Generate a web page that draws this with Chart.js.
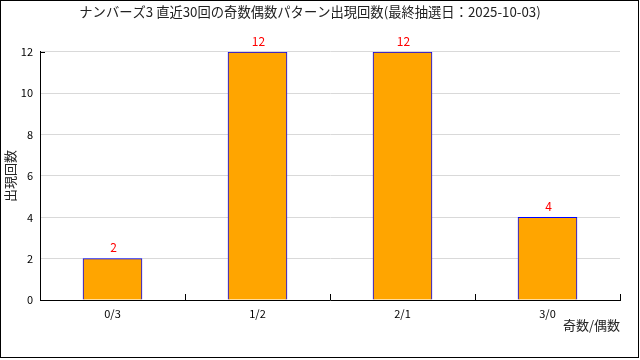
<!DOCTYPE html>
<html>
<head>
<meta charset="utf-8">
<script src="https://cdn.jsdelivr.net/npm/chart.js@4"></script>
<style>
    body { margin: 0; background: #fff; }
    canvas { display: block; }
</style>
</head>
<body>
<canvas id="chart" width="640" height="360"></canvas>
<script>
const chartTitle = "ナンバーズ3 直近30回の奇数偶数パターン出現回数(最終抽選日：2025-10-03)";
const patterns = ["0/3", "1/2", "2/1", "3/0"];
const counts = [2, 12, 12, 4];
const yTicks = [0, 2, 4, 6, 8, 10, 12];

const fontFamily = "'Noto Sans CJK JP', 'DejaVu Sans', sans-serif";

// value labels above bars + inside tick marks + outer frame
const extras = {
    id: "extras",
    afterDraw(chart) {
        const ctx = chart.ctx;
        const area = chart.chartArea;
        const xScale = chart.scales.x;
        const yScale = chart.scales.y;

        ctx.save();
        ctx.fillStyle = "#ff0000";
        ctx.font = "12px " + fontFamily;
        ctx.textAlign = "center";
        ctx.textBaseline = "middle";
        chart.getDatasetMeta(0).data.forEach((bar, i) => {
            ctx.fillText(String(counts[i]), bar.x + 1, bar.y - 11);
        });

        ctx.strokeStyle = "#000";
        ctx.lineWidth = 1;
        ctx.beginPath();
        for (let i = 1; i <= patterns.length; i++) {
            let x;
            if (i === patterns.length) {
                x = area.right;
            } else {
                x = (xScale.getPixelForValue(i - 1) + xScale.getPixelForValue(i)) / 2;
            }
            x = Math.round(x) + 0.5;
            ctx.moveTo(x, area.bottom);
            ctx.lineTo(x, area.bottom - 6);
        }
        const topY = Math.round(yScale.getPixelForValue(yTicks[yTicks.length - 1])) + 0.5;
        ctx.moveTo(area.left, topY);
        ctx.lineTo(area.left + 5, topY);
        ctx.stroke();

        ctx.strokeRect(0.5, 0.5, 638, 357);
        ctx.restore();
    }
};

new Chart(document.getElementById("chart"), {
    type: "bar",
    data: {
        labels: patterns,
        datasets: [{
            data: counts,
            backgroundColor: "#ffa500",
            borderColor: "#0000ff",
            borderWidth: 1,
            barThickness: 59
        }]
    },
    options: {
        responsive: false,
        animation: false,
        devicePixelRatio: 1,
        layout: {
            padding: { left: 0, right: 20, top: 0, bottom: 0 }
        },
        plugins: {
            legend: { display: false },
            tooltip: { enabled: false },
            title: {
                display: true,
                text: chartTitle,
                color: "#222",
                font: { family: fontFamily, size: 13.3, weight: "normal" },
                padding: { top: 4, bottom: 32 }
            }
        },
        scales: {
            x: {
                grid: { display: false, drawTicks: false },
                border: { color: "#000", width: 1 },
                ticks: {
                    color: "#000",
                    font: { family: fontFamily, size: 11 },
                    padding: 7,
                    maxRotation: 0
                },
                title: {
                    display: true,
                    text: "奇数/偶数",
                    align: "end",
                    color: "#222",
                    font: { family: fontFamily, size: 13 },
                    padding: { top: 0, bottom: 27 }
                },
                afterFit(scale) {
                    scale.height = 60;
                }
            },
            y: {
                min: 0,
                max: 12,
                grid: { color: "#d9d9d9", drawTicks: false },
                border: { color: "#000", width: 1 },
                afterBuildTicks(scale) {
                    scale.ticks = yTicks.map(v => ({ value: v }));
                },
                ticks: {
                    color: "#000",
                    font: { family: fontFamily, size: 11 },
                    padding: 7
                },
                title: {
                    display: true,
                    text: "出現回数",
                    color: "#222",
                    font: { family: fontFamily, size: 13 },
                    padding: { top: 2, bottom: 0 }
                },
                afterFit(scale) {
                    scale.width = 40;
                }
            }
        }
    },
    plugins: [extras]
});
</script>
</body>
</html>
